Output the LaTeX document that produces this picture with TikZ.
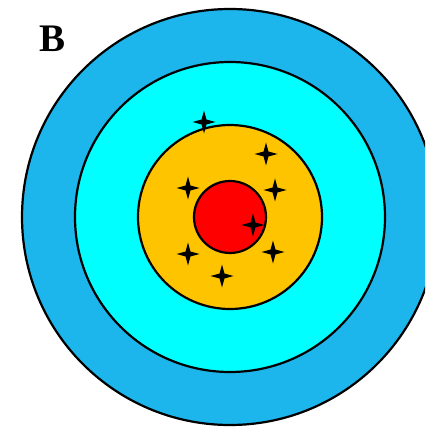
\documentclass[tikz,border=0pt]{standalone}
\usepackage{fontspec}
\setmainfont{Liberation Serif}
\usetikzlibrary{shapes.geometric}
\definecolor{ringblue}{RGB}{28,182,236}
\definecolor{ringcyan}{RGB}{0,255,255}
\definecolor{ringgold}{RGB}{255,196,0}
\definecolor{ringred}{RGB}{255,0,0}
\tikzset{every picture/.style={line width=2.2pt},
  hit/.style={star, star points=4, star point ratio=3.3, fill=black, draw=none, inner sep=0pt, minimum size=23pt}}

\begin{document}
\begin{tikzpicture}[x=1pt, y=-1pt, line join=round, line cap=round]
	\useasboundingbox (0,0) rectangle (425,427);
	\clip (0,0) rectangle (425,427);
	\path
	(230,217) coordinate (O)
	(53,39) coordinate (L);
	\draw[fill=ringblue] (O) circle (208pt);
	\draw[fill=ringcyan] (O) circle (155pt);
	\draw[fill=ringgold] (O) circle (92pt);
	\draw[fill=ringred] (O) circle (36pt);
	\foreach \x/\y [count=\i] in {204/122,266/154,188/188,275/190,253/225,188/254,273/252,222/276}
		\node[hit] (h\i) at (\x,\y) {};
	\node[font=\bfseries\fontsize{39}{39}\selectfont] (B) at (L) {B};
\end{tikzpicture}
\end{document}
